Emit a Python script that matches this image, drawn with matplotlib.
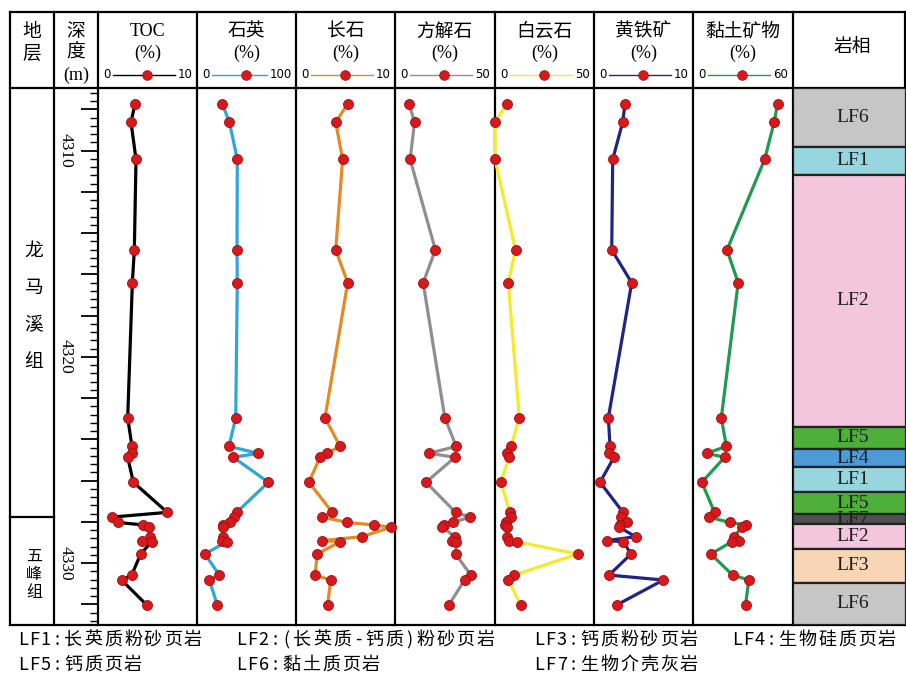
import matplotlib
matplotlib.use('Agg')
import matplotlib.pyplot as plt
from matplotlib.ticker import MultipleLocator, NullFormatter

plt.rcParams['font.family'] = ['Noto Sans CJK SC', 'DejaVu Sans']

# ---------------- data ----------------
depth = [4307.75, 4308.62, 4310.43, 4314.82, 4316.41, 4322.95, 4324.34, 4324.68,
         4324.87, 4326.08, 4327.54, 4327.77, 4328.03, 4328.15, 4328.26, 4328.72,
         4328.91, 4328.96, 4329.56, 4330.58, 4330.82, 4332.03]
toc = [3.74, 3.33, 3.84, 3.67, 3.47, 3.0, 3.43, 3.4, 3.0, 3.57, 7.0, 1.38,
       2.05, 4.58, 5.15, 5.25, 4.48, 5.42, 4.31, 3.4, 2.39, 4.92]
quartz = [25.6, 32.7, 40.7, 40.4, 40.7, 39.1, 32.3, 61.9, 36.7, 72.0, 40.1, 37.4,
          33.3, 26.6, 25.9, 26.6, 25.5, 30.0, 8.1, 22.5, 12.4, 20.5]
feldspar = [5.22, 4.01, 4.71, 4.01, 5.22, 2.93, 4.44, 3.1, 2.42, 1.31, 3.67, 2.66,
            5.18, 7.88, 9.6, 6.63, 2.66, 4.44, 2.15, 1.92, 3.5, 3.2]
calcite = [7.07, 9.77, 7.58, 20.2, 14.1, 24.9, 30.6, 17.0, 30.0, 15.5, 30.3, 37.5,
           28.9, 24.4, 23.6, 30.0, 28.6, 30.6, 30.3, 37.9, 34.8, 26.9]
dolomite = [5.9, 0.0, 0.0, 10.4, 6.7, 12.3, 8.1, 5.9, 7.1, 2.9, 7.6, 8.1,
            5.6, 5.05, 5.9, 6.3, 7.1, 11.0, 41.8, 9.7, 6.7, 13.1]
pyrite = [3.13, 2.9, 1.89, 1.79, 3.81, 1.45, 1.62, 1.55, 2.02, 0.61, 2.93, 2.7,
          3.37, 2.63, 2.56, 4.2, 1.28, 2.96, 3.74, 1.52, 7.0, 2.29]
clay = [50.7, 48.7, 43.0, 20.4, 27.1, 17.0, 20.0, 8.3, 19.0, 5.3, 12.9, 9.7,
        22.0, 31.9, 29.5, 24.4, 27.5, 23.4, 10.7, 23.8, 33.5, 31.5]

panel_names = ['TOC', '石英', '长石', '方解石', '白云石', '黄铁矿', '黏土矿物']
panel_max = [10, 100, 10, 50, 50, 10, 60]
panel_colors = ['#000000', '#2ea6d8', '#e38b22', '#8f8f8f', '#f4ea2a', '#1f2584', '#1f9a4f']
panel_values = [toc, quartz, feldspar, calcite, dolomite, pyrite, clay]

lith_names = ['LF6', 'LF1', 'LF2', 'LF5', 'LF4', 'LF1', 'LF5', 'LF7', 'LF2', 'LF3', 'LF6']
lith_top = [4306.97, 4309.81, 4311.17, 4323.38, 4324.48, 4325.35, 4326.57, 4327.62,
            4328.11, 4329.32, 4330.96]
lith_bot = lith_top[1:] + [4333.0]
lith_colors = {'LF1': '#97d6de', 'LF2': '#f3c6de', 'LF3': '#f8d5b4', 'LF4': '#4c9bd8',
               'LF5': '#4daf38', 'LF6': '#c6c6c6', 'LF7': '#505050'}

formation_top = ['龙', '马', '溪', '组']
formation_bot = ['五', '峰', '组']
formation_boundary = 4327.75

depth_labels = [4310, 4320, 4330]
legend_rows = [['LF1:长英质粉砂页岩', 'LF2:(长英质-钙质)粉砂页岩', 'LF3:钙质粉砂页岩', 'LF4:生物硅质页岩'],
               ['LF5:钙质页岩', 'LF6:黏土质页岩', 'LF7:生物介壳灰岩']]

# ---------------- layout (pixels) ----------------
W, H = 906, 674
col_x = [10, 54, 98, 197, 296, 395, 495, 594, 693, 793, 905]
top_y, head_y, bot_y = 12, 88, 625
ymin, ymax = 4306.97, 4333.0


def box(x0, y0, x1, y1):
    return [x0 / W, 1 - y1 / H, (x1 - x0) / W, (y1 - y0) / H]


def d2y(d):
    return head_y + (d - ymin) / (ymax - ymin) * (bot_y - head_y)


fig = plt.figure(figsize=(W / 100, H / 100), dpi=100)
fig.patch.set_facecolor('white')

ov = fig.add_axes([0, 0, 1, 1])
ov.set_xlim(0, W)
ov.set_ylim(H, 0)
ov.axis('off')


def spaced_text(x, y, s, size=13, ascii_adv=11.5, cjk_adv=20.0):
    """Draw text with a fixed advance per character (letter-spaced look)."""
    for ch in s:
        adv = ascii_adv if ord(ch) < 128 else cjk_adv
        ov.text(x + adv / 2, y, ch, ha='center', va='center', fontsize=size)
        x += adv


lw = 1.6
for x in col_x:
    ov.plot([x, x], [top_y, bot_y], color='black', lw=lw, zorder=1)
for y in [top_y, head_y, bot_y]:
    ov.plot([col_x[0], col_x[-1]], [y, y], color='black', lw=lw, zorder=1)
yb = d2y(formation_boundary)
ov.plot([col_x[0], col_x[1]], [yb, yb], color='black', lw=lw, zorder=1)

# header texts
hfs = 13.5
ov.text(32, 32, '地', ha='center', va='center', fontsize=hfs)
ov.text(32, 53, '层', ha='center', va='center', fontsize=hfs)
ov.text(76, 31, '深', ha='center', va='center', fontsize=hfs)
ov.text(76, 52, '度', ha='center', va='center', fontsize=hfs)
ov.text(76, 75, '(m)', ha='center', va='center', fontsize=13, family='Liberation Serif')
ov.text((col_x[9] + 906) / 2 + 3, 46, '岩相', ha='center', va='center', fontsize=hfs)

for i, name in enumerate(panel_names):
    x0 = col_x[2 + i]
    cx = x0 + 49.5
    if name == 'TOC':
        ov.text(cx, 32, name, ha='center', va='center', fontsize=13, family='Liberation Serif')
    else:
        ov.text(cx, 31, name, ha='center', va='center', fontsize=hfs)
    ov.text(cx, 53, '(%)', ha='center', va='center', fontsize=13, family='Liberation Serif')
    mx = panel_max[i]
    lab = str(mx)
    ov.text(x0 + 5, 75, '0', ha='left', va='center', fontsize=8.5, family='DejaVu Sans')
    ov.text(x0 + 95, 75, lab, ha='right', va='center', fontsize=8.5, family='DejaVu Sans')
    xend = x0 + 95 - 7 * len(lab) - 4
    ov.plot([x0 + 15, xend], [75, 75], color=panel_colors[i], lw=1.0)
    ov.plot([x0 + 49], [75], 'o', ms=7, mfc='#d7191c', mec='#a00d12', mew=0.5)

# formation labels
for k, ch in enumerate(formation_top):
    ov.text(34, 250 + 37.3 * k, ch, ha='center', va='center', fontsize=13.5)
for k, ch in enumerate(formation_bot):
    ov.text(34, 556 + 18.5 * k, ch, ha='center', va='center', fontsize=11.5)

# depth labels
for d in depth_labels:
    ov.text(66, d2y(d), str(d), ha='center', va='center', rotation=-90,
            fontsize=12.5, family='Liberation Serif')

# bottom legend
leg_x = [17, 235, 533, 731]
leg_y = [640, 665]
for r, row in enumerate(legend_rows):
    for c, t in enumerate(row):
        spaced_text(leg_x[c], leg_y[r], t)

# depth axis ticks
dax = fig.add_axes(box(col_x[1], head_y, col_x[2], bot_y))
dax.set_facecolor('none')
dax.set_ylim(ymax, ymin)
dax.set_xlim(0, 1)
for s in dax.spines.values():
    s.set_visible(False)
dax.set_xticks([])
dax.yaxis.tick_right()
dax.yaxis.set_major_locator(MultipleLocator(2))
dax.yaxis.set_minor_locator(MultipleLocator(0.4))
dax.yaxis.set_major_formatter(NullFormatter())
dax.tick_params(axis='y', which='major', direction='in', length=12, width=1.3, color='black')
dax.tick_params(axis='y', which='minor', direction='in', length=6, width=1.0, color='black')

# data panels
for i, vals in enumerate(panel_values):
    x0 = col_x[2 + i]
    ax = fig.add_axes(box(x0, head_y, col_x[3 + i], bot_y))
    ax.set_facecolor('none')
    ax.set_xlim(0, panel_max[i])
    ax.set_ylim(ymax, ymin)
    ax.axis('off')
    ax.plot(vals, depth, color=panel_colors[i], lw=2.3, zorder=2, clip_on=False)
    ax.plot(vals, depth, 'o', ms=7.2, mfc='#d7191c', mec='#a00d12', mew=0.6,
            zorder=3, clip_on=False)

# lithology column
lax = fig.add_axes(box(col_x[9], head_y, 906, bot_y))
lax.set_xlim(0, 1)
lax.set_ylim(ymax, ymin)
lax.axis('off')
for name, t, b in zip(lith_names, lith_top, lith_bot):
    lax.barh((t + b) / 2, 1, height=b - t, left=0, color=lith_colors[name],
             edgecolor='#222222', linewidth=1.6)
    lax.text(0.53, (t + b) / 2, name, ha='center', va='center', fontsize=14,
             family='Liberation Serif', color='#1a1a1a')

fig.savefig('out.png', dpi=100, facecolor='white')
